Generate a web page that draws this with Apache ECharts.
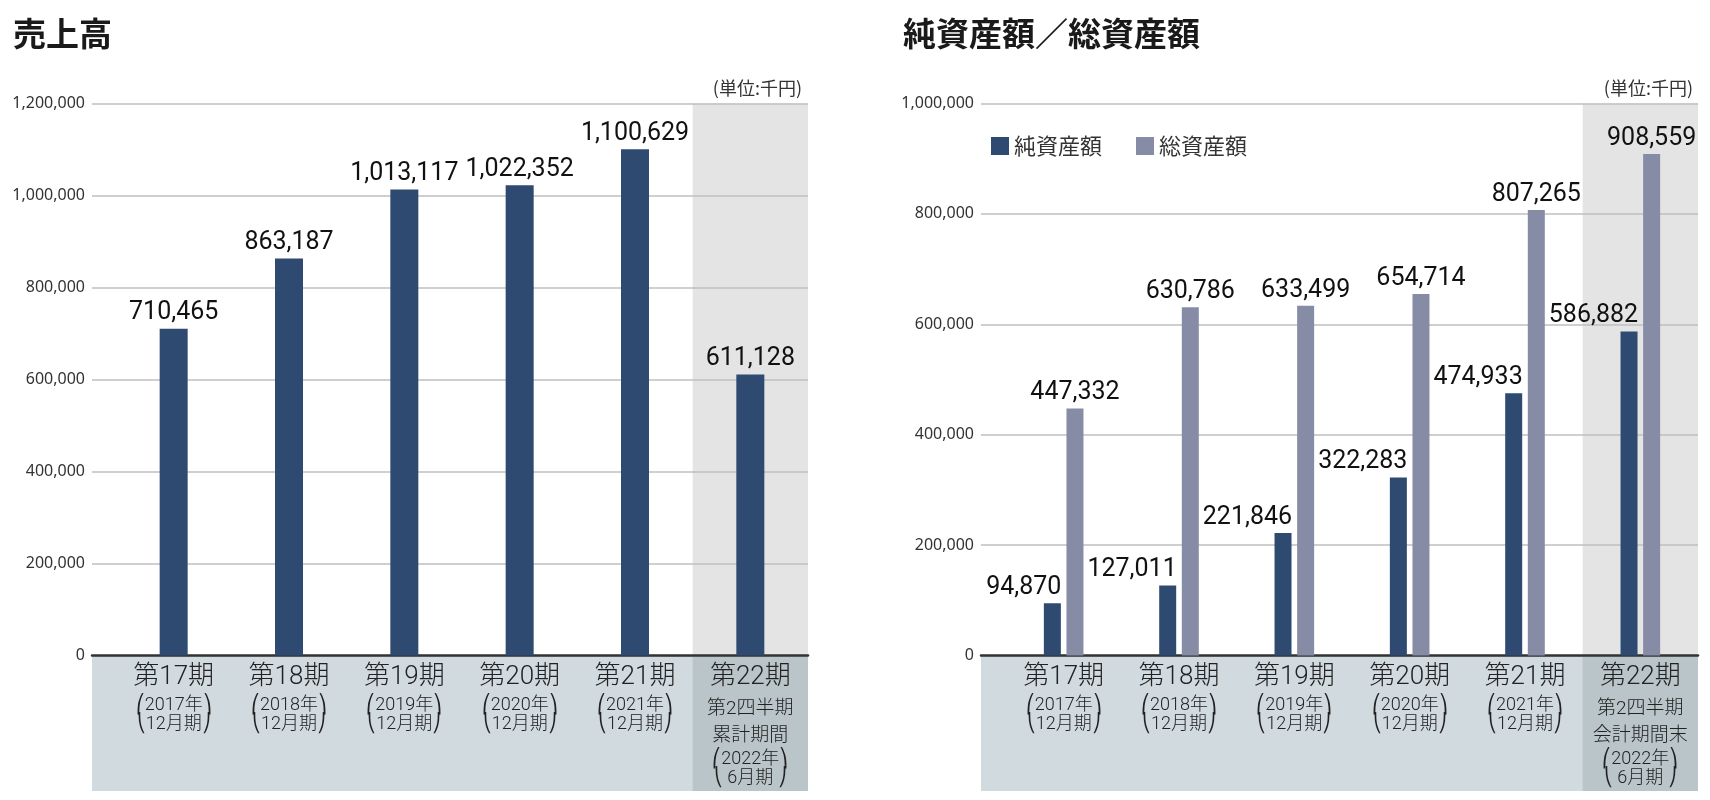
<!DOCTYPE html>
<html>
<head>
<meta charset="utf-8">
<title>売上高 / 純資産額・総資産額</title>
<script src="https://cdn.jsdelivr.net/npm/echarts@6/dist/echarts.min.js"></script>
<style>
  html,body{margin:0;padding:0;background:#fff;}
  #main{width:1710px;height:800px;}
</style>
</head>
<body>
<div id="main"></div>
<script>
// データ（単位:千円）
const periods = ['第17期','第18期','第19期','第20期','第21期','第22期']
const years = ['2017年','2018年','2019年','2020年','2021年','2022年']
const months = ['12月期','12月期','12月期','12月期','12月期','6月期']
const sales = [710465, 863187, 1013117, 1022352, 1100629, 611128]
const netAssets = [94870, 127011, 221846, 322283, 474933, 586882]
const totalAssets = [447332, 630786, 633499, 654714, 807265, 908559]
const salesTicks = [0, 200000, 400000, 600000, 800000, 1000000, 1200000]
const assetTicks = [0, 200000, 400000, 600000, 800000, 1000000]
const lastNoteLeft = ['第2四半期','累計期間']
const lastNoteRight = ['第2四半期','会計期間末']

const NUM_FONT = "Roboto,'Noto Sans CJK JP',sans-serif"
const JP_FONT = "'Noto Sans CJK JP',sans-serif"
const NAVY = '#2f4a70'
const GREY = '#878ca6'

const TOP = 103.5   // 上端グリッド線
const PLOT_H = 552  // 0のライン 655.5
const BAND_H = 135.5

const fmt = v => v.toLocaleString('en-US')

let chart = echarts.init(document.getElementById('main'), null, {renderer:'canvas'})

let grid = [], xAxis = [], yAxis = [], series = []

// 1つのチャート分のグリッドを組み立てる
function buildPanel(p){
  let g0 = grid.length
  let ticks = p.ticks
  let yMax = ticks[ticks.length-1]
  let yStep = ticks[1]-ticks[0]
  let lastIdx = periods.length-1
  // 0: 目盛り・グリッド線
  grid.push({left:p.gl, width:p.gr-p.gl, top:TOP, height:PLOT_H})
  // 1: 最終期の背景(グレー)
  grid.push({left:p.bl, width:p.br-p.bl, top:TOP, height:PLOT_H})
  // 2: 下の帯
  grid.push({left:p.gl, width:p.gr-p.gl, top:TOP+PLOT_H, height:BAND_H, show:true, backgroundColor:'#d0dadf', borderWidth:0})
  // 3: 下の帯(最終期)
  grid.push({left:p.bl, width:p.br-p.bl, top:TOP+PLOT_H, height:BAND_H})
  // 4: 棒グラフ
  grid.push({left:p.bl, width:p.br-p.bl, top:TOP, height:PLOT_H})

  // 軸
  xAxis.push({gridIndex:g0, type:'category', data:[''], z:4,
    axisLine:{show:true, lineStyle:{color:'#333', width:2.5}},
    axisTick:{show:false}, axisLabel:{show:false}})
  yAxis.push({gridIndex:g0, type:'value', min:0, max:yMax, interval:yStep, z:1,
    axisLine:{show:false}, axisTick:{show:false},
    axisLabel:{formatter:fmt, fontSize:16, color:'#333', margin:7, fontFamily:"'Noto Sans',Roboto,sans-serif"},
    splitLine:{lineStyle:{color:'#bfbfbf', width:1.5}}})

  for(let k=1;k<=3;k++){
    xAxis.push({gridIndex:g0+k, type:'category', data:periods, show:false})
    yAxis.push({gridIndex:g0+k, type:'value', min:0, max:1, show:false, splitLine:{show:false}})
  }

  xAxis.push({gridIndex:g0+4, type:'category', data:periods, z:8,
    axisLine:{show:false}, axisTick:{show:false},
    axisLabel:{
      interval:0, margin:4, color:'#222', fontFamily:NUM_FONT,
      formatter:(v, i)=>{
        if(i===lastIdx){
          return '{a|'+v+'}\n{c|'+p.note[0]+'}\n{c|'+p.note[1]+'}\n{b|⎛'+years[i]+'⎞}\n{b|⎝ '+months[i]+' ⎠}'
        }
        return '{a|'+v+'}\n{b|⎛'+years[i]+'⎞}\n{b|⎝'+months[i]+'⎠}'
      },
      rich:{
        a:{fontSize:26, lineHeight:36, fontFamily:NUM_FONT, fontWeight:300, color:'#222'},
        b:{fontSize:18, lineHeight:19, fontFamily:NUM_FONT, fontWeight:300, color:'#222'},
        c:{fontSize:19, lineHeight:27, fontFamily:NUM_FONT, fontWeight:300, color:'#222'}
      }
    }})
  yAxis.push({gridIndex:g0+4, type:'value', min:0, max:yMax, show:false, splitLine:{show:false}})

  let colBg = periods.map((d,i)=>i===lastIdx?1:null)
  series.push({type:'bar', xAxisIndex:g0+1, yAxisIndex:g0+1, data:colBg, barWidth:'100%',
    itemStyle:{color:'#e4e4e4'}, z:0, silent:true})
  series.push({type:'bar', xAxisIndex:g0+3, yAxisIndex:g0+3, data:colBg, barWidth:'100%',
    itemStyle:{color:'#bac5c9'}, z:1, silent:true})

  p.bars.forEach(b=>{
    series.push({type:'bar', name:b.name, xAxisIndex:g0+4, yAxisIndex:g0+4,
      data:b.data, barWidth:p.barWidth, barGap:'33%', z:5,
      itemStyle:{color:b.color},
      label:{show:true, position:'top', distance:3, formatter:o=>fmt(o.value),
        fontSize:25, color:'#111', fontFamily:NUM_FONT,
        align:b.align||'center', offset:b.offset||[0,0]}})
  })
}

buildPanel({gl:92, gr:808, bl:116, br:808, ticks:salesTicks, barWidth:28, note:lastNoteLeft,
  bars:[{name:'売上高', data:sales, color:NAVY}]})
buildPanel({gl:981, gr:1698, bl:1006, br:1698, ticks:assetTicks, barWidth:17, note:lastNoteRight,
  bars:[
    {name:'純資産額', data:netAssets, color:NAVY, align:'right', offset:[9,0]},
    {name:'総資産額', data:totalAssets, color:GREY}
  ]})

let option = {
  animation:false,
  backgroundColor:'#fff',
  title:[
    {text:'売上高', left:8, top:12, textStyle:{fontSize:33, fontWeight:'bold', color:'#1a1a1a', fontFamily:JP_FONT}},
    {text:'純資産額／総資産額', left:898, top:12, textStyle:{fontSize:33, fontWeight:'bold', color:'#1a1a1a', fontFamily:JP_FONT}},
    {text:'(単位:千円)', right:1710-807, top:74, textStyle:{fontSize:18, fontWeight:'normal', color:'#333', fontFamily:JP_FONT}},
    {text:'(単位:千円)', right:1710-1698, top:74, textStyle:{fontSize:18, fontWeight:'normal', color:'#333', fontFamily:JP_FONT}}
  ],
  legend:{
    data:['純資産額','総資産額'], left:986, top:130, icon:'rect',
    itemWidth:18, itemHeight:18, itemGap:34,
    textStyle:{fontSize:22, color:'#333', fontFamily:JP_FONT}
  },
  grid:grid, xAxis:xAxis, yAxis:yAxis, series:series
}
chart.setOption(option)
</script>
</body>
</html>
